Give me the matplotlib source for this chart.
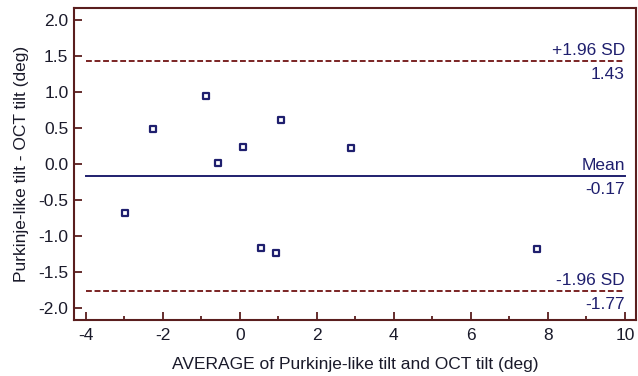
import numpy as np
import matplotlib.pyplot as plt
from matplotlib.ticker import MultipleLocator

plt.rcParams['font.family'] = ['Liberation Sans', 'DejaVu Sans']
plt.rcParams['axes.unicode_minus'] = False

# Bland-Altman data: average and difference of the two tilt measurements
avg_tilt = [-2.99, -2.26, -0.89, -0.58, 0.08, 1.06, 2.88, 0.55, 0.94, 7.71]
diff_tilt = [-0.68, 0.49, 0.94, 0.01, 0.24, 0.61, 0.22, -1.17, -1.24, -1.18]

mean_diff = -0.17
upper_loa = 1.43
lower_loa = -1.77

frame_col = '#5a1e1e'
navy = '#1f1f6e'
dash_col = '#7a2424'
text_col = '#1a1a2a'
fs = 12.5

fig = plt.figure(figsize=(6.38, 3.76), dpi=100)
ax = fig.add_axes([0.116, 0.149, 0.881, 0.830])

ax.scatter(avg_tilt, diff_tilt, marker='s', s=24, facecolors='white',
           edgecolors=navy, linewidths=1.6, zorder=3)

x0, x1 = -4, 10
ax.plot([x0, x1], [mean_diff, mean_diff], color=navy, lw=1.4)
ax.plot([x0, x1], [upper_loa, upper_loa], color=dash_col, lw=1.4, ls=(0, (3, 1.4)))
ax.plot([x0, x1], [lower_loa, lower_loa], color=dash_col, lw=1.4, ls=(0, (3, 1.4)))

# line labels, right aligned at the end of each line
lab_kw = dict(ha='right', fontsize=fs, color=navy)
ax.text(x1, upper_loa + 0.05, '+1.96 SD', va='bottom', **lab_kw)
ax.text(x1, upper_loa - 0.08, f'{upper_loa:.2f}', va='top', **lab_kw)
ax.text(x1, mean_diff + 0.05, 'Mean', va='bottom', **lab_kw)
ax.text(x1, mean_diff - 0.08, f'{mean_diff:.2f}', va='top', **lab_kw)
ax.text(x1, lower_loa + 0.05, '-1.96 SD', va='bottom', **lab_kw)
ax.text(x1, lower_loa - 0.08, f'{lower_loa:.2f}', va='top', **lab_kw)

ax.set_xlim(-4.31, 10.29)
ax.set_ylim(-2.17, 2.17)
ax.xaxis.set_major_locator(MultipleLocator(2))
ax.xaxis.set_minor_locator(MultipleLocator(1))
ax.yaxis.set_major_locator(MultipleLocator(0.5))
ax.yaxis.set_major_formatter(plt.FormatStrFormatter('%.1f'))

ax.tick_params(which='both', direction='in', color=frame_col, width=1.3,
               labelsize=fs, labelcolor=text_col)
ax.tick_params(which='major', length=6, pad=6)
ax.tick_params(which='minor', length=3)
ax.tick_params(axis='y', which='major', pad=4)
for s in ax.spines.values():
    s.set_color(frame_col)
    s.set_linewidth(1.5)

ax.set_xlabel('AVERAGE of Purkinje-like tilt and OCT tilt (deg)', fontsize=fs,
              color=text_col, labelpad=10)
ax.set_ylabel('Purkinje-like tilt - OCT tilt (deg)', fontsize=fs,
              color=text_col, labelpad=7)

fig.savefig('out.png', dpi=100)
